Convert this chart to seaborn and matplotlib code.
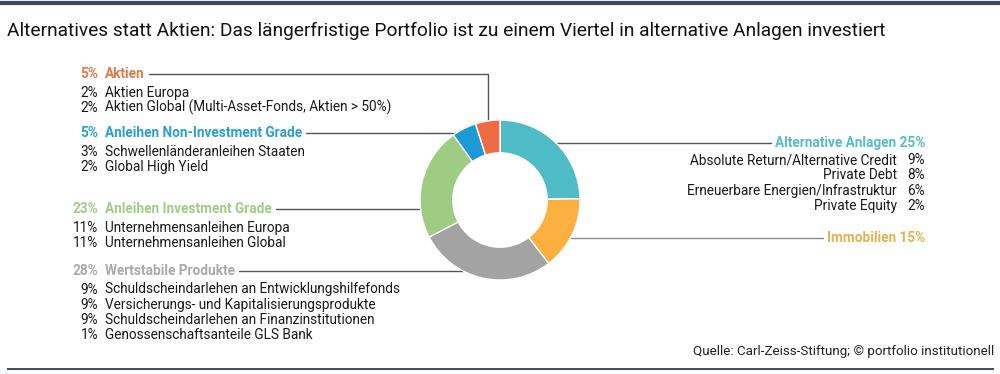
import numpy as np
import matplotlib
matplotlib.use("Agg")
import matplotlib.pyplot as plt
import seaborn as sns

# ---------------- data ----------------
categories = ["Alternative Anlagen", "Immobilien", "Wertstabile Produkte",
              "Anleihen Investment Grade", "Anleihen Non-Investment Grade", "Aktien"]
shares = [25, 15, 28, 23, 5, 5]
slice_colors = ["#4DBCC7", "#FBB040", "#A3A3A3", "#9FCC83", "#1C9AD6", "#EE6C43"]
label_colors = ["#55BEC8", "#E5B24F", "#A9A9A9", "#A3CB88", "#2A9FD5", "#E5784C"]

aktien_items = ["Aktien Europa", "Aktien Global (Multi-Asset-Fonds, Aktien > 50%)"]
aktien_vals = [2, 2]
nonig_items = ["Schwellenländeranleihen Staaten", "Global High Yield"]
nonig_vals = [3, 2]
ig_items = ["Unternehmensanleihen Europa", "Unternehmensanleihen Global"]
ig_vals = [11, 11]
wert_items = ["Schuldscheindarlehen an Entwicklungshilfefonds",
              "Versicherungs- und Kapitalisierungsprodukte",
              "Schuldscheindarlehen an Finanzinstitutionen",
              "Genossenschaftsanteile GLS Bank"]
wert_vals = [9, 9, 9, 1]
alt_items = ["Absolute Return/Alternative Credit", "Private Debt",
             "Erneuerbare Energien/Infrastruktur", "Private Equity"]
alt_vals = [9, 8, 6, 2]

title = "Alternatives statt Aktien: Das längerfristige Portfolio ist zu einem Viertel in alternative Anlagen investiert"
source = "Quelle: Carl-Zeiss-Stiftung; © portfolio institutionell"

# ---------------- figure ----------------
sns.set_theme(style="white")
plt.rcParams["font.family"] = ["Roboto", "DejaVu Sans"]

W, H = 1000, 374
fig = plt.figure(figsize=(W / 100, H / 100), dpi=100)
fig.patch.set_facecolor("white")
ax = fig.add_axes([0, 0, 1, 1])
ax.set_xlim(0, W)
ax.set_ylim(H, 0)
ax.axis("off")

# donut
CX, CY, R = 500, 200, 80
axp = fig.add_axes([(CX - R) / W, (H - CY - R) / H, 2 * R / W, 2 * R / H])
axp.pie(shares, colors=slice_colors, startangle=90, counterclock=False, radius=1,
        wedgeprops=dict(width=0.41, edgecolor="white", linewidth=1.0), frame=False)
axp.set_xlim(-1, 1)
axp.set_ylim(-1, 1)
axp.axis("off")

# borders
ax.plot([0, W], [3, 3], color="#3C475A", lw=3, solid_capstyle="butt")
ax.plot([7, 994], [369, 369], color="#2E3B52", lw=1.3, solid_capstyle="butt")

ax.text(7, 31, title, fontsize=13.8, color="#111111", va="center", ha="left")
ax.text(994, 352, source, fontsize=9.6, color="#222222", va="center", ha="right")

fig.canvas.draw()
renderer = fig.canvas.get_renderer()
inv = ax.transData.inverted()


def text_right_x(t):
    bb = t.get_window_extent(renderer)
    return inv.transform((bb.x1, bb.y0))[0]


def text_left_x(t):
    bb = t.get_window_extent(renderer)
    return inv.transform((bb.x0, bb.y0))[0]


def edge_x(y, side):
    dy = y - CY
    dx = np.sqrt(max(R * R - dy * dy, 0))
    return CX - dx if side == "left" else CX + dx


LINE_C = "#555555"
PCT_X, LAB_X = 98, 105
FS = 9.8
STEP = 15.3

left_blocks = [
    (5, "Aktien", label_colors[5], aktien_items, aktien_vals, 74),
    (5, "Anleihen Non-Investment Grade", label_colors[4], nonig_items, nonig_vals, 133),
    (23, "Anleihen Investment Grade", label_colors[3], ig_items, ig_vals, 209),
    (28, "Wertstabile Produkte", label_colors[2], wert_items, wert_vals, 271),
]
for i, (tot, name, col, items, vals, y0) in enumerate(left_blocks):
    ax.text(PCT_X, y0, f"{tot}%", fontsize=FS, fontweight="bold", color=col,
            ha="right", va="center")
    th = ax.text(LAB_X, y0, name, fontsize=FS, fontweight="bold", color=col,
                 ha="left", va="center")
    x_start = text_right_x(th) + 4
    if i == 0:
        xv = CX - R * np.sin(np.deg2rad(0.5 * shares[5] / sum(shares) * 360))
        ax.plot([x_start, xv, xv], [y0, y0, CY - np.sqrt(R * R - (xv - CX) ** 2)],
                color=LINE_C, lw=1)
    else:
        ax.plot([x_start, edge_x(y0, "left")], [y0, y0], color=LINE_C, lw=1)
    for j, (it, v) in enumerate(zip(items, vals)):
        yy = y0 + 18.5 + j * STEP
        ax.text(PCT_X, yy, f"{v}%", fontsize=FS, color="#1a1a1a", ha="right", va="center")
        ax.text(LAB_X, yy, it, fontsize=FS, color="#1a1a1a", ha="left", va="center")

# right side
RX = 925
RLX = 897
y_alt = 143
th = ax.text(RX, y_alt, f"{categories[0]} {shares[0]}%", fontsize=FS, fontweight="bold",
             color=label_colors[0], ha="right", va="center")
ax.plot([edge_x(y_alt, "right"), text_left_x(th) - 4], [y_alt, y_alt], color=LINE_C, lw=1)
for j, (it, v) in enumerate(zip(alt_items, alt_vals)):
    yy = y_alt + 17 + j * 15.3
    ax.text(RX, yy, f"{v}%", fontsize=FS, color="#1a1a1a", ha="right", va="center")
    ax.text(RLX, yy, it, fontsize=FS, color="#1a1a1a", ha="right", va="center")

y_imm = 238
th = ax.text(RX, y_imm, f"{categories[1]} {shares[1]}%", fontsize=FS, fontweight="bold",
             color=label_colors[1], ha="right", va="center")
ax.plot([edge_x(y_imm, "right"), text_left_x(th) - 4], [y_imm, y_imm], color="#8a8a8a", lw=1)

fig.savefig("out.png", dpi=100, facecolor="white")
